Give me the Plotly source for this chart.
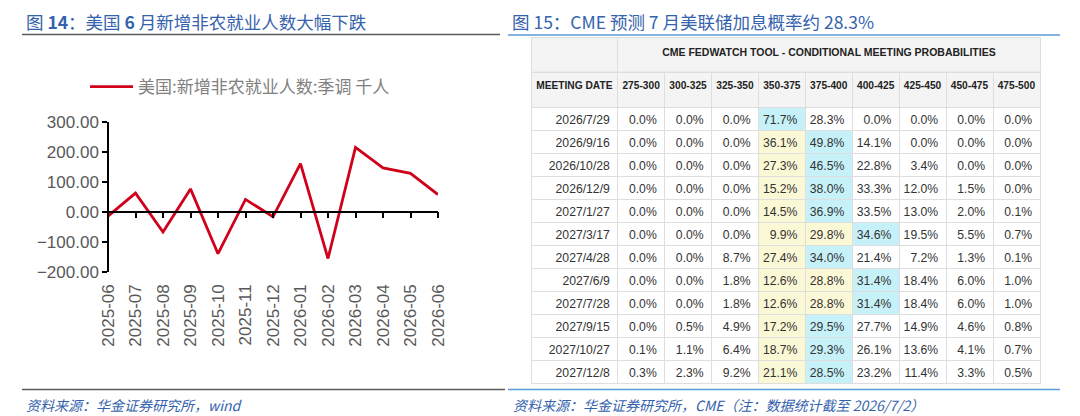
import plotly.graph_objects as go

# ---- left chart data (千人) ----
months = ['2025-06', '2025-07', '2025-08', '2025-09', '2025-10', '2025-11', '2025-12',
          '2026-01', '2026-02', '2026-03', '2026-04', '2026-05', '2026-06']
nfp_change = [-15, 62, -68, 76, -140, 41, -17, 160, -156, 214, 146, 128, 57]

# ---- right table data (%) ----
meeting_dates = ['2026/7/29', '2026/9/16', '2026/10/28', '2026/12/9', '2027/1/27', '2027/3/17',
                 '2027/4/28', '2027/6/9', '2027/7/28', '2027/9/15', '2027/10/27', '2027/12/8']
rate_ranges = ['275-300', '300-325', '325-350', '350-375', '375-400',
               '400-425', '425-450', '450-475', '475-500']
p_275_300 = [0.0, 0.0, 0.0, 0.0, 0.0, 0.0, 0.0, 0.0, 0.0, 0.0, 0.1, 0.3]
p_300_325 = [0.0, 0.0, 0.0, 0.0, 0.0, 0.0, 0.0, 0.0, 0.0, 0.5, 1.1, 2.3]
p_325_350 = [0.0, 0.0, 0.0, 0.0, 0.0, 0.0, 8.7, 1.8, 1.8, 4.9, 6.4, 9.2]
p_350_375 = [71.7, 36.1, 27.3, 15.2, 14.5, 9.9, 27.4, 12.6, 12.6, 17.2, 18.7, 21.1]
p_375_400 = [28.3, 49.8, 46.5, 38.0, 36.9, 29.8, 34.0, 28.8, 28.8, 29.5, 29.3, 28.5]
p_400_425 = [0.0, 14.1, 22.8, 33.3, 33.5, 34.6, 21.4, 31.4, 31.4, 27.7, 26.1, 23.2]
p_425_450 = [0.0, 0.0, 3.4, 12.0, 13.0, 19.5, 7.2, 18.4, 18.4, 14.9, 13.6, 11.4]
p_450_475 = [0.0, 0.0, 0.0, 1.5, 2.0, 5.5, 1.3, 6.0, 6.0, 4.6, 4.1, 3.3]
p_475_500 = [0.0, 0.0, 0.0, 0.0, 0.1, 0.7, 0.1, 1.0, 1.0, 0.8, 0.7, 0.5]
current_range = '350-375'

prob_cols = [p_275_300, p_300_325, p_325_350, p_350_375, p_375_400,
             p_400_425, p_425_450, p_450_475, p_475_500]

# the page body has an 8px margin, so the figure is drawn from (8, 8) in the window
OFF = 8
W, H = 1080 - OFF, 416 - OFF
BLUE = '#3462ad'
CN = 'Noto Sans CJK SC'
EN = 'Liberation Sans'
GRID = '#dedede'
HDR_FILL = '#f4f4f4'
YELLOW = '#fbf8d6'
CYAN = '#c6f1f8'


def px(x):
    return (x - OFF) / W


def py(y):
    return 1 - (y - OFF) / H


# highlight: most likely range in cyan, ranges between current and it in yellow
base = rate_ranges.index(current_range)
fills = [['white'] * len(meeting_dates) for _ in rate_ranges]
for r in range(len(meeting_dates)):
    row = [col[r] for col in prob_cols]
    top = row.index(max(row))
    for c in range(base, top):
        fills[c][r] = YELLOW
    fills[top][r] = CYAN

fig = go.Figure()

fig.add_trace(go.Scatter(
    x=months, y=nfp_change, mode='lines', name='美国:新增非农就业人数:季调 千人',
    line=dict(color='#d0021b', width=2.8),
))

tbl_x = [px(531), px(1040)]
fig.add_trace(go.Table(
    domain=dict(x=tbl_x, y=[py(72), py(37.5)]),
    columnwidth=[87, 423],
    header=dict(
        values=['', '<b>CME FEDWATCH TOOL - CONDITIONAL MEETING PROBABILITIES</b>'],
        height=34, fill_color=HDR_FILL, line=dict(color=GRID, width=1),
        align='center', font=dict(family=EN, size=10.5, color='#222222'),
    ),
))
fig.add_trace(go.Table(
    domain=dict(x=tbl_x, y=[py(389), py(72)]),
    columnwidth=[87] + [47] * len(rate_ranges),
    header=dict(
        values=['<b>MEETING\u00a0DATE</b>'] + [f'<b>{r}</b>' for r in rate_ranges],
        height=35, fill_color=HDR_FILL, line=dict(color=GRID, width=1),
        align='center', font=dict(family=EN, size=10.2, color='#222222'),
    ),
    cells=dict(
        values=[meeting_dates] + [[f'{v:.1f}%' for v in col] for col in prob_cols],
        height=23, fill_color=[['white'] * len(meeting_dates)] + fills,
        line=dict(color=GRID, width=1), align='right',
        font=dict(family=EN, size=12.2, color='#333333'),
    ),
))

y_lo, y_hi = -200, 300
yd = [py(271.7), py(121.7)]
zero_pos = yd[0] + (0 - y_lo) / (y_hi - y_lo) * (yd[1] - yd[0])

tick_font = dict(family=EN, size=17, color='#595959')

fig.update_layout(
    width=W, height=H, margin=dict(l=0, r=0, t=0, b=0, autoexpand=False),
    paper_bgcolor='white', plot_bgcolor='white',
    showlegend=True,
    legend=dict(orientation='h', x=px(85), y=py(87), xanchor='left', yanchor='middle',
                itemwidth=43, font=dict(family=CN, size=17, color='#808080'),
                bgcolor='rgba(0,0,0,0)'),
    xaxis=dict(
        type='category', categoryorder='array', categoryarray=months,
        domain=[px(108), px(438)], range=[0, len(months) - 1],
        anchor='free', position=zero_pos,
        showline=True, linecolor='black', linewidth=1.5,
        ticks='outside', ticklen=6, tickcolor='black', tickwidth=1.5,
        tickmode='linear', tick0=0, dtick=1, tickangle=-90,
        ticklabelstandoff=59, tickfont=tick_font,
        showgrid=False, zeroline=False, automargin=False,
    ),
    yaxis=dict(
        domain=yd, range=[y_lo, y_hi], dtick=100, tickformat='.2f',
        anchor='free', position=px(108),
        showline=True, linecolor='black', linewidth=1.5,
        ticks='outside', ticklen=5, tickcolor='black', tickwidth=1.5,
        tickfont=tick_font, showgrid=False, zeroline=False, automargin=False,
    ),
)

# title / source rules
fig.add_shape(type='line', xref='paper', yref='paper', x0=px(22), x1=px(500),
              y0=py(34.5), y1=py(34.5), line=dict(color='#5a5a5a', width=1.5))
fig.add_shape(type='line', xref='paper', yref='paper', x0=px(508), x1=px(1060),
              y0=py(35), y1=py(35), line=dict(color='#5b9bd5', width=1.5))
fig.add_shape(type='line', xref='paper', yref='paper', x0=px(22), x1=px(505),
              y0=py(389.5), y1=py(389.5), line=dict(color='#5a5a5a', width=1.5))
fig.add_shape(type='line', xref='paper', yref='paper', x0=px(508), x1=px(1060),
              y0=py(389.5), y1=py(389.5), line=dict(color='#5b9bd5', width=1.5))

title_font = dict(family=CN, size=17.5, color=BLUE)
fig.add_annotation(text='图 <b>14</b>：美国 <b>6</b> 月新增非农就业人数大幅下跌',
                   xref='paper', yref='paper', x=px(24), y=py(21),
                   xanchor='left', yanchor='middle', showarrow=False, font=title_font)
fig.add_annotation(text='图 15：CME 预测 7 月美联储加息概率约 28.3%',
                   xref='paper', yref='paper', x=px(510), y=py(21),
                   xanchor='left', yanchor='middle', showarrow=False, font=title_font)

src_font = dict(family=CN, size=14, color=BLUE, style='italic')
fig.add_annotation(text='资料来源：华金证券研究所，wind',
                   xref='paper', yref='paper', x=px(24), y=py(405),
                   xanchor='left', yanchor='middle', showarrow=False, font=src_font)
fig.add_annotation(text='资料来源：华金证券研究所，CME（注：数据统计截至 2026/7/2）',
                   xref='paper', yref='paper', x=px(511), y=py(405),
                   xanchor='left', yanchor='middle', showarrow=False, font=src_font)

fig.write_html('out.html')
